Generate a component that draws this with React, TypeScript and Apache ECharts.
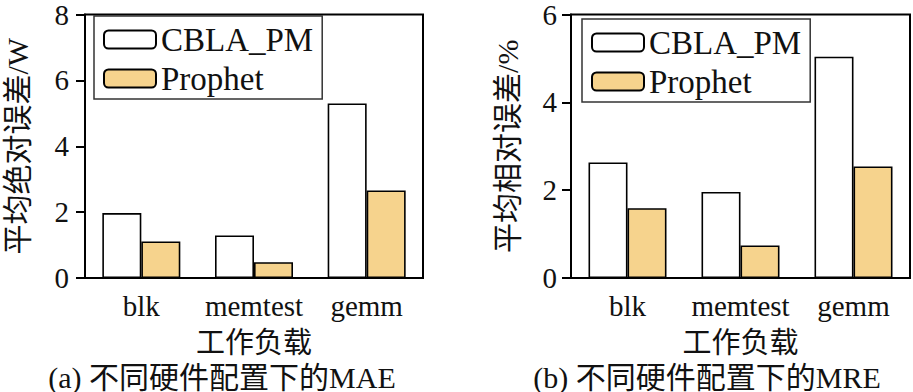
import React, { useEffect, useRef } from "react";
import * as echarts from "echarts";

const categories = ["blk", "memtest", "gemm"];
const seriesNames = ["CBLA_PM", "Prophet"];
const maeCBLA = [1.97, 1.29, 5.3];
const maeProphet = [1.11, 0.48, 2.66];
const mreCBLA = [2.63, 1.96, 5.04];
const mreProphet = [1.59, 0.74, 2.54];
const yNames = ["平均绝对误差/W", "平均相对误差/%"];
const xName = "工作负载";
const captions = ["(a) 不同硬件配置下的MAE", "(b) 不同硬件配置下的MRE"];

const LATIN = "Liberation Serif";
const FONT = "Liberation Serif, Noto Sans CJK SC";
const ORANGE = "#F6D38D";

export default function App() {
  const ref = useRef<HTMLDivElement>(null);
  useEffect(() => {
    if (!ref.current) return;
    const chart = echarts.init(ref.current, undefined, { renderer: "svg" });
    const grids = [
      { left: 85, right: 490, top: 11, bottom: 114 },
      { left: 571, right: 3, top: 11, bottom: 114 },
    ];
    const mkX = (i: number) => ({
      type: "category",
      gridIndex: i,
      data: categories,
      name: xName,
      nameLocation: "middle",
      nameGap: 50,
      nameTextStyle: { fontSize: 29, color: "#111", fontFamily: FONT },
      axisLine: { lineStyle: { color: "#000", width: 2 } },
      axisTick: { alignWithLabel: true, length: 9, lineStyle: { color: "#000", width: 2 } },
      axisLabel: { interval: 0, hideOverlap: false, fontSize: 29, color: "#111", margin: 13, fontFamily: LATIN },
    });
    const mkY = (i: number, max: number, gap: number, lm: number) => ({
      type: "value",
      gridIndex: i,
      min: 0,
      max,
      interval: 2,
      name: yNames[i],
      nameLocation: "middle",
      nameGap: gap,
      nameTextStyle: { fontSize: 30, color: "#111", fontFamily: FONT },
      splitLine: { show: false },
      axisLine: { show: true, lineStyle: { color: "#000", width: 2 } },
      axisTick: { show: true, length: 9, lineStyle: { color: "#000", width: 2 } },
      axisLabel: { fontSize: 29, color: "#111", margin: lm, fontFamily: LATIN },
    });
    const barBase = {
      type: "bar",
      barWidth: 39,
      barGap: "0%",
    };
    const mkLegend = (left: number, top: number) => ({
      left,
      top,
      orient: "vertical",
      data: seriesNames,
      itemWidth: 52,
      itemHeight: 18,
      itemGap: 6,
      padding: [7, 9, 4, 9],
      borderColor: "#333",
      borderWidth: 1.5,
      selectedMode: false,
      textStyle: { fontSize: 33, lineHeight: 33, color: "#111", fontFamily: LATIN },
    });
    chart.setOption({
      animation: false,
      textStyle: { fontFamily: FONT },
      grid: grids.map((g) => ({ ...g, show: true, borderColor: "#000", borderWidth: 2, backgroundColor: "transparent" })),
      xAxis: [mkX(0), mkX(1)],
      yAxis: [mkY(0, 8, 53, 16), mkY(1, 6, 49, 14)],
      legend: [mkLegend(94, 16), mkLegend(582, 19)],
      series: [
        { ...barBase, name: seriesNames[0], xAxisIndex: 0, yAxisIndex: 0, data: maeCBLA, itemStyle: { color: "#fff", borderColor: "#000", borderWidth: 1.6 } },
        { ...barBase, name: seriesNames[1], xAxisIndex: 0, yAxisIndex: 0, data: maeProphet, itemStyle: { color: ORANGE, borderColor: "#000", borderWidth: 1.6 } },
        { ...barBase, name: seriesNames[0], xAxisIndex: 1, yAxisIndex: 1, data: mreCBLA, itemStyle: { color: "#fff", borderColor: "#000", borderWidth: 1.6 } },
        { ...barBase, name: seriesNames[1], xAxisIndex: 1, yAxisIndex: 1, data: mreProphet, itemStyle: { color: ORANGE, borderColor: "#000", borderWidth: 1.6 } },
      ],
      graphic: [
        { type: "text", x: 222, y: 377, style: { text: captions[0], fontSize: 30, fill: "#111", fontFamily: FONT, textAlign: "center", textVerticalAlign: "middle" } },
        { type: "text", x: 707, y: 377, style: { text: captions[1], fontSize: 30, fill: "#111", fontFamily: FONT, textAlign: "center", textVerticalAlign: "middle" } },
      ],
    });
    return () => chart.dispose();
  }, []);
  return (
    <div
      ref={ref}
      style={{ position: "absolute", left: 0, top: 0, width: 913, height: 392, background: "#fff" }}
    />
  );
}
